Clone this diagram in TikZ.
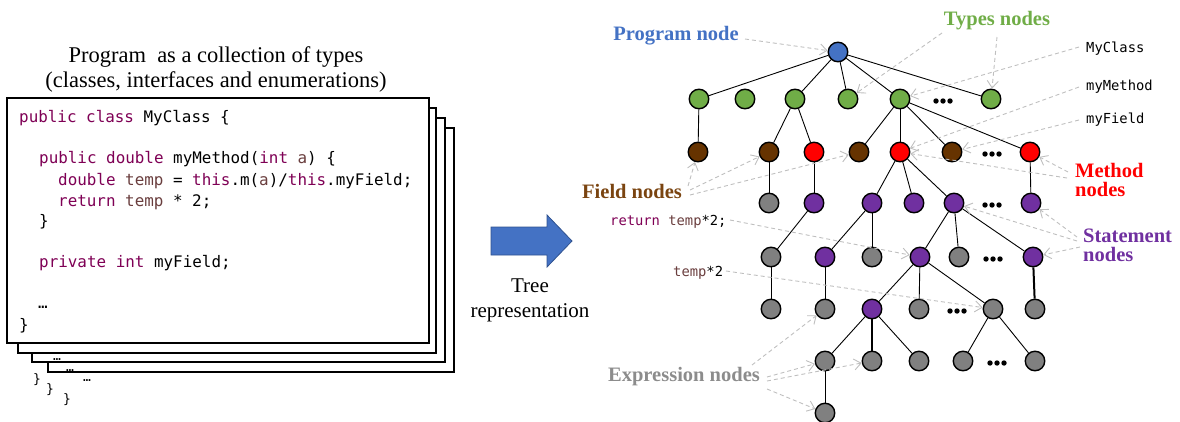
\documentclass[tikz,border=0pt]{standalone}
\usepackage{fontspec}
\setmainfont{Liberation Serif}
\newfontfamily\codefont{DejaVu Sans Mono}
\usetikzlibrary{arrows.meta}
\definecolor{kw}{HTML}{7F0055}
\definecolor{var}{HTML}{6A3E3E}
\definecolor{cblue}{HTML}{4472C4}
\definecolor{cgreen}{HTML}{70AD47}
\definecolor{cbrown}{HTML}{663300}
\definecolor{cbrownt}{HTML}{7A4410}
\definecolor{cred}{HTML}{FF0000}
\definecolor{cpurple}{HTML}{7030A0}
\definecolor{cgray}{HTML}{808080}
\definecolor{cgrayt}{HTML}{8C8C8C}
\definecolor{cdash}{HTML}{BFBFBF}
\definecolor{arrowedge}{HTML}{2F528F}
\tikzset{
  tn/.style={circle, draw=black, line width=1.4pt, minimum size=19.5pt, inner sep=0pt},
  prg/.style={tn, fill=cblue},
  typ/.style={tn, fill=cgreen},
  fld/.style={tn, fill=cbrown},
  mth/.style={tn, fill=cred},
  stm/.style={tn, fill=cpurple},
  expr/.style={tn, fill=cgray},
  edge/.style={draw=black, line width=0.9pt},
  thickedge/.style={draw=black, line width=2pt},
  darr/.style={draw=cdash, line width=0.9pt, dash pattern=on 4pt off 3pt, -{Straight Barb[length=7pt,width=11pt]}},
  blab/.style={font=\fontsize{20.5}{19}\selectfont\bfseries, inner sep=0pt, align=left},
  mlab/.style={font=\codefont\fontsize{13.8}{16}\selectfont, inner sep=0pt, anchor=base west},
  code/.style={font=\codefont\fontsize{15.9}{21}\selectfont, inner sep=0pt, anchor=base west},
  smallcode/.style={font=\codefont\fontsize{13}{15}\selectfont, inner sep=0pt},
  codebox/.style={draw=black, line width=2pt, fill=white},
  sertext/.style={align=center, inner sep=0pt},
  dotsp/.pic={\foreach \dx in {-7,0,7} \fill[black] (\dx,0) circle (2.7);}
}
\begin{document}
\begin{tikzpicture}[x=1pt,y=-1pt]
\useasboundingbox (0,0) rectangle (1180,421);

% ---------- left: program ----------
\node[sertext, font=\fontsize{22.5}{25}\selectfont] (title) at (216,69.5)
  {Program~ as a collection of types\\(classes, interfaces and enumerations)};

\draw[codebox] (48,128) rectangle (454,372);
\draw[codebox] (32,118) rectangle (445,362);
\draw[codebox] (18,108) rectangle (436,353);
\draw[codebox] (7,98) rectangle (429,343);

\node[code] (c1) at (19,122) {\textcolor{kw}{public class} MyClass \{};
\node[code] (c2) at (39,163) {\textcolor{kw}{public double} myMethod(\textcolor{kw}{int} \textcolor{var}{a}) \{};
\node[code] (c3) at (58,185) {\textcolor{kw}{double} \textcolor{var}{temp} = \textcolor{kw}{this}.m(\textcolor{var}{a})/\textcolor{kw}{this}.myField;};
\node[code] (c4) at (58,206) {\textcolor{kw}{return} \textcolor{var}{temp} * 2;};
\node[code] (c5) at (39,226) {\}};
\node[code] (c6) at (39,267) {\textcolor{kw}{private int} myField;};
\node[code] (c7) at (38,308) {…};
\node[code] (c8) at (19,330) {\}};

\node[smallcode] (b1) at (57,360) {…};
\node[smallcode] (b2) at (70,371) {…};
\node[smallcode] (b3) at (87,381) {…};
\node[smallcode] (b4) at (37,380) {\}};
\node[smallcode] (b5) at (50,390) {\}};
\node[smallcode] (b6) at (67,400) {\}};

% ---------- middle arrow ----------
\draw[fill=cblue, draw=arrowedge, line width=0.8pt]
  (491,227) -- (547,227) -- (547,215) -- (572,241) -- (547,267) -- (547,255) -- (491,255) -- cycle;
\node[sertext, font=\fontsize{21}{25}\selectfont] (treelab) at (530,300) {Tree\\representation};

% ---------- tree nodes ----------
\node[prg] (r) at (838,52) {};
\node[typ] (t1) at (699,99) {};
\node[typ] (t2) at (745,99) {};
\node[typ] (t3) at (795,99) {};
\node[typ] (t4) at (848,99) {};
\node[typ] (t5) at (900,99) {};
\node[typ] (t7) at (991,99) {};
\pic at (943,101) {dotsp};

\node[fld] (f1) at (698,152) {};
\node[fld] (f2) at (769,152) {};
\node[mth] (m1) at (814,152) {};
\node[fld] (f3) at (859,152) {};
\node[mth] (m2) at (900,152) {};
\node[fld] (f4) at (952,152) {};
\node[mth] (m3) at (1030,152) {};
\pic at (992,154) {dotsp};

\node[expr] (e1) at (769,203) {};
\node[stm] (s1) at (814,203) {};
\node[stm] (s2) at (872,203) {};
\node[stm] (s3) at (914,203) {};
\node[stm] (s4) at (954,203) {};
\node[stm] (s5) at (1031,203) {};
\pic at (992,205) {dotsp};

\node[expr] (e2) at (771,257) {};
\node[stm] (s6) at (825,257) {};
\node[expr] (e3) at (872,257) {};
\node[stm] (s7) at (920,257) {};
\node[expr] (e4) at (959,257) {};
\node[stm] (s8) at (1033,257) {};
\pic at (993,259) {dotsp};

\node[expr] (e5) at (771,309) {};
\node[expr] (e6) at (825,309) {};
\node[stm] (s9) at (872,309) {};
\node[expr] (e7) at (919,309) {};
\node[expr] (e8) at (993,309) {};
\node[expr] (e9) at (1035,309) {};
\pic at (957,311) {dotsp};

\node[expr] (e10) at (825,361) {};
\node[expr] (e11) at (872,361) {};
\node[expr] (e12) at (919,361) {};
\node[expr] (e13) at (963,361) {};
\node[expr] (e14) at (1035,361) {};
\pic at (997,363) {dotsp};

\node[expr] (e15) at (825,413) {};

% ---------- tree edges ----------
\foreach \a/\b in {r/t1, r/t3, r/t4, r/t5, r/t7,
  t1/f1, t3/f2, t3/m1, t5/f3, t5/m2, t5/f4, t5/m3,
  f2/e1, m1/s1, m2/s2, m2/s3, m2/s4, m3/s5,
  s1/e2, s2/s6, s2/e3, s4/s7, s4/e4, s4/s8,
  e2/e5, s6/e6, s7/s9, s7/e7, s7/e8,
  s9/e10, s9/e12, e8/e13, e8/e14, e10/e15}
  \draw[edge] (\a) -- (\b);
\draw[thickedge] (s8) -- (e9);
\draw[thickedge] (s9) -- (e11);

% ---------- labels ----------
\node[blab, text=cblue, anchor=base] (pn) at (676,40) {Program node};
\node[blab, text=cgreen, anchor=base] (tyn) at (997,25) {Types nodes};
\node[blab, text=cbrownt, anchor=base] (fn) at (632,198) {Field nodes};
\node[blab, text=cred, anchor=west] (mn) at (1075,180) {Method\\nodes};
\node[blab, text=cpurple, anchor=west] (sn) at (1083,245) {Statement\\nodes};
\node[blab, text=cgrayt, anchor=base] (en) at (684,381) {Expression nodes};

\node[mlab] (lc) at (1086,52) {MyClass};
\node[mlab] (lm) at (1086,90) {myMethod};
\node[mlab] (lf) at (1086,123) {myField};
\node[mlab] (lr) at (610,225) {\textcolor{kw}{return} \textcolor{var}{temp}*2;};
\node[mlab] (lt) at (673,276) {\textcolor{var}{temp}*2};

% ---------- dashed pointer arrows ----------
\coordinate (pA) at (745,39);
\coordinate (tA) at (942,33);
\coordinate (tB) at (997,37);
\coordinate (cA) at (1079,47);
\coordinate (cB) at (1079,87);
\coordinate (cC) at (1079,120);
\coordinate (fA) at (688,186);
\coordinate (fB) at (690,190);
\coordinate (fC) at (690,195);
\coordinate (mA) at (1067,178);
\coordinate (mB) at (1068,172);
\coordinate (sA) at (1077,241);
\coordinate (sB) at (1077,237);
\coordinate (sC) at (1080,247);
\coordinate (rA) at (730,220);
\coordinate (xA) at (726,271);
\coordinate (eA) at (752,365);
\coordinate (eB) at (767,377);
\coordinate (eC) at (767,381);
\coordinate (eD) at (767,389);

\draw[darr] (pA) -- (r);
\draw[darr] (tA) -- (t4);
\draw[darr] (tB) -- (t7);
\draw[darr] (cA) -- (t5);
\draw[darr] (cB) -- (m2);
\draw[darr] (cC) -- (f4);
\draw[darr] (fA) -- (f1);
\draw[darr] (fB) -- (f2);
\draw[darr] (fC) -- (f3);
\draw[darr] (mA) -- (m2);
\draw[darr] (mB) -- (m3);
\draw[darr] (sA) -- (s4);
\draw[darr] (sB) -- (s5);
\draw[darr] (sC) -- (s8);
\draw[darr] (rA) -- (s7);
\draw[darr] (xA) -- (e8);
\draw[darr] (eA) -- (e6);
\draw[darr] (eB) -- (e10);
\draw[darr] (eC) -- (e11);
\draw[darr] (eD) -- (e15);
\end{tikzpicture}
\end{document}
